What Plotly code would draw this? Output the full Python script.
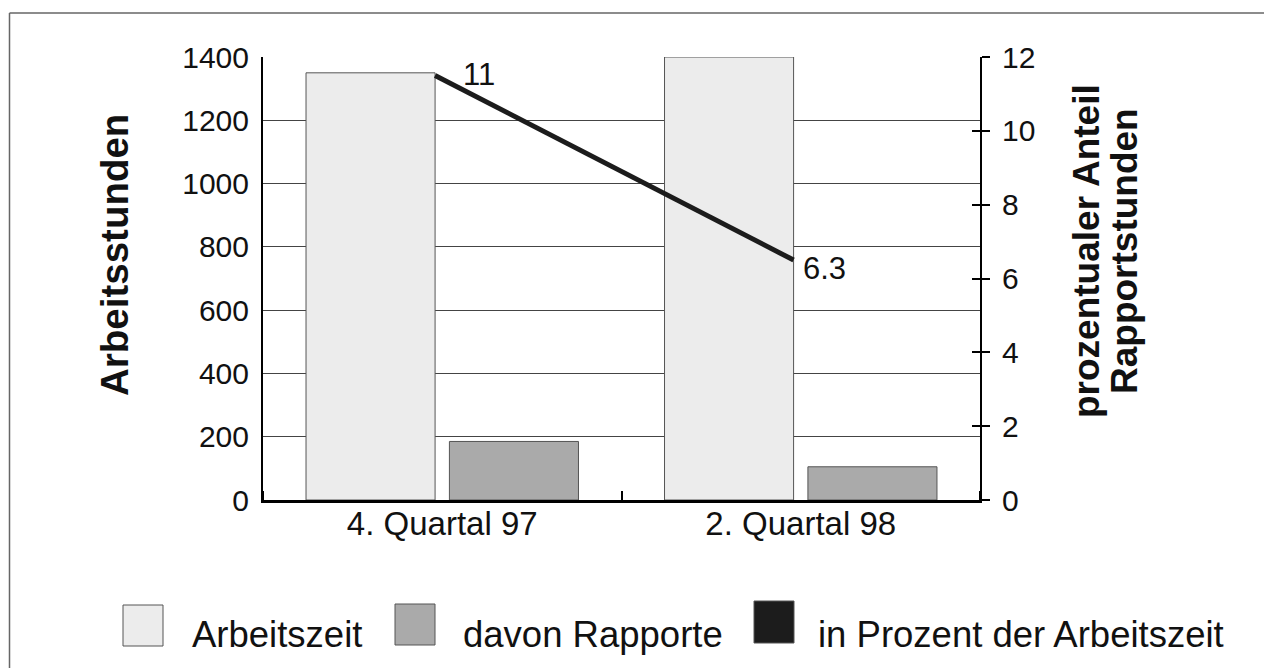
import plotly.graph_objects as go

# ---------------- data ----------------
categories = ["4. Quartal 97", "2. Quartal 98"]
arbeitszeit = [1350, 1400]          # Arbeitsstunden
rapporte = [185, 105]               # davon Rapporte (Stunden)
prozent = [11.5, 6.5]               # line position on right axis
prozent_labels = ["11", "6.3"]      # printed data labels
series_names = ["Arbeitszeit", "davon Rapporte", "in Prozent der Arbeitszeit"]
left_ticks = [0, 200, 400, 600, 800, 1000, 1200, 1400]
right_ticks = [0, 2, 4, 6, 8, 10, 12]

# ---------------- styling ----------------
PAGE_OFF = 8                      # default body margin of the html page
W, H = 1272 - PAGE_OFF, 668 - PAGE_OFF
FONT = "Liberation Sans, Arial, Helvetica, sans-serif"
C_ARB = "#ececec"
C_RAP = "#aaaaaa"
C_LINE = "#1c1c1c"
C_EDGE = "#555555"

def px(x):
    return (x - PAGE_OFF) / W

def py(y):
    return 1 - (y - PAGE_OFF) / H

bar_w = 0.36
off1 = -0.38
off2 = 0.02
xs = list(range(len(categories)))
line_x = [i + off1 + bar_w for i in xs]

fig = go.Figure()
fig.add_trace(go.Bar(
    x=xs, y=arbeitszeit, width=bar_w, offset=off1, name=series_names[0],
    marker=dict(color=C_ARB, line=dict(color=C_EDGE, width=1)), yaxis="y"))
fig.add_trace(go.Bar(
    x=xs, y=rapporte, width=bar_w, offset=off2, name=series_names[1],
    marker=dict(color=C_RAP, line=dict(color=C_EDGE, width=1)), yaxis="y"))
fig.add_trace(go.Scatter(
    x=line_x, y=prozent, mode="lines", name=series_names[2],
    line=dict(color=C_LINE, width=5), yaxis="y2"))
fig.add_trace(go.Scatter(x=[None], y=[None], yaxis="y3", showlegend=False,
                         hoverinfo="skip"))

# data labels for the line
shifts = [(26, 1), (7, -8)]
for i, (xv, yv, lab) in enumerate(zip(line_x, prozent, prozent_labels)):
    fig.add_annotation(x=xv, y=yv, xref="x", yref="y2", text=lab,
                       showarrow=False, xanchor="left", yanchor="middle",
                       xshift=shifts[i][0], yshift=shifts[i][1],
                       font=dict(family=FONT, size=31, color="#111"))

# axis titles
fig.add_annotation(x=px(114), y=py(255), xref="paper", yref="paper",
                   text="<b>Arbeitsstunden</b>", textangle=-90, showarrow=False,
                   xanchor="center", yanchor="middle",
                   font=dict(family=FONT, size=38.5, color="#111"))
fig.add_annotation(x=px(1086), y=py(251), xref="paper", yref="paper",
                   text="<b>prozentualer Anteil</b>", textangle=-90, showarrow=False,
                   xanchor="center", yanchor="middle",
                   font=dict(family=FONT, size=37, color="#111"))
fig.add_annotation(x=px(1124), y=py(251), xref="paper", yref="paper",
                   text="<b>Rapportstunden</b>", textangle=-90, showarrow=False,
                   xanchor="center", yanchor="middle",
                   font=dict(family=FONT, size=37, color="#111"))

# outer frame (only top and left edges are inside the picture)
fig.add_shape(type="line", xref="paper", yref="paper",
              x0=px(9.5), x1=1, y0=py(13), y1=py(13),
              line=dict(color="#666", width=1.5), layer="below")
fig.add_shape(type="line", xref="paper", yref="paper",
              x0=px(9.5), x1=px(9.5), y0=py(13), y1=0,
              line=dict(color="#666", width=1.5), layer="below")

# manual legend built from the series names
legend_colors = [C_ARB, C_RAP, C_LINE]
legend_sw = [(123, 605, 646), (395, 604, 645), (754, 601, 643)]
legend_tx = [190, 461, 816]
for name, col, (sx, sy0, sy1), tx in zip(series_names, legend_colors, legend_sw, legend_tx):
    fig.add_shape(type="rect", xref="paper", yref="paper",
                  x0=px(sx), x1=px(sx + 40), y0=py(sy1), y1=py(sy0),
                  fillcolor=col, line=dict(color=C_EDGE, width=1))
    fig.add_annotation(x=px(tx), y=py(634), xref="paper", yref="paper",
                       text=name, showarrow=False, xanchor="left", yanchor="middle",
                       font=dict(family=FONT, size=36.5, color="#111"))

fig.update_layout(
    width=W, height=H, template="none",
    margin=dict(l=0, r=0, t=0, b=0),
    paper_bgcolor="white", plot_bgcolor="white",
    showlegend=False, barmode="overlay",
    font=dict(family=FONT, color="#111"),
    xaxis=dict(domain=[px(263), px(980)], range=[-0.5, 1.5],
               tickmode="array", tickvals=xs, ticktext=categories,
               ticks="", showgrid=False, zeroline=False,
               showline=True, linecolor="black", linewidth=2.5,
               tickfont=dict(family=FONT, size=33, color="#111"),
               ticklabelstandoff=-7, automargin=False,
               minor=dict(tickmode="array",
                          tickvals=[i - 0.5 for i in range(len(categories) + 1)],
                          ticks="inside", ticklen=9, tickcolor="black",
                          tickwidth=1.5, showgrid=False)),
    yaxis=dict(domain=[py(500), py(57)], range=[0, 1400],
               tickmode="array", tickvals=left_ticks, ticks="",
               showgrid=True, gridcolor="#444", gridwidth=1, zeroline=False,
               showline=True, linecolor="black", linewidth=2,
               tickfont=dict(family=FONT, size=30, color="#111"),
               ticklabelstandoff=6, automargin=False),
    yaxis2=dict(domain=[py(500), py(57)], range=[0, 12], overlaying="y",
                side="right", anchor="x",
                tickmode="array", tickvals=right_ticks,
                ticks="outside", ticklen=8, tickwidth=1.5, tickcolor="black",
                showgrid=False, zeroline=False,
                showline=True, linecolor="black", linewidth=2,
                tickfont=dict(family=FONT, size=30, color="#111"),
                ticklabelstandoff=6, automargin=False),
    yaxis3=dict(domain=[py(500), py(57)], range=[0, 12], overlaying="y",
                side="right", anchor="x",
                tickmode="array", tickvals=right_ticks,
                ticks="inside", ticklen=8, tickwidth=1.5, tickcolor="black",
                showticklabels=False, showgrid=False, zeroline=False,
                showline=False, automargin=False),
)

fig.write_html("out.html")
